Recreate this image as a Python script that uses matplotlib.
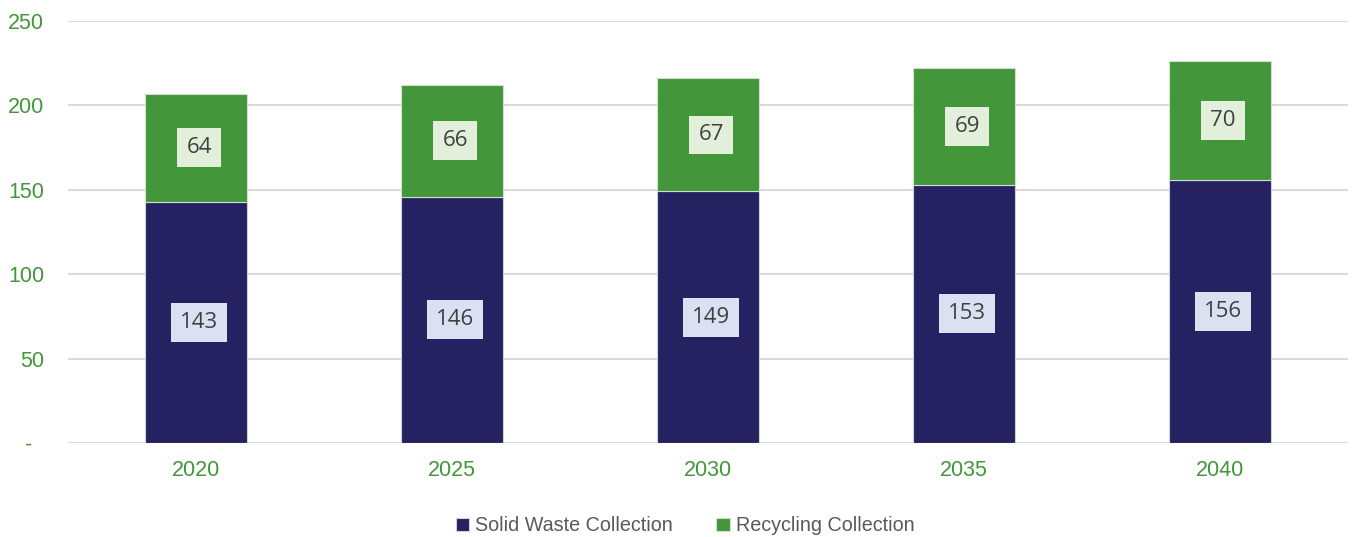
import matplotlib.pyplot as plt
import matplotlib.transforms as mtransforms
import numpy as np

years = ['2020', '2025', '2030', '2035', '2040']
solid_waste = [143, 146, 149, 153, 156]
recycling = [64, 66, 67, 69, 70]

navy = '#262262'
green = '#43963A'

fig = plt.figure(figsize=(13.54, 5.37), dpi=100)
ax = fig.add_axes([0.0502, 0.175, 0.9454, 0.786])

x = np.arange(len(years))
w = 0.4
b1 = ax.bar(x, solid_waste, w, color=navy, edgecolor='#D0D0D8', linewidth=0.8,
            label='Solid Waste Collection', zorder=3)
b2 = ax.bar(x, recycling, w, bottom=solid_waste, color=green, edgecolor='#D0E0D0',
            linewidth=0.8, label='Recycling Collection', zorder=3)

for i in range(len(years)):
    ax.text(x[i] + 0.012, solid_waste[i] / 2, str(solid_waste[i]), ha='center', va='center',
            fontsize=16, color='#404040', family='Open Sans', zorder=4,
            bbox=dict(boxstyle='square,pad=0.4', fc='#D9E1F2', ec='none'))
    ax.text(x[i] + 0.012, solid_waste[i] + recycling[i] / 2, str(recycling[i]), ha='center',
            va='center', fontsize=16, color='#404040', family='Open Sans', zorder=4,
            bbox=dict(boxstyle='square,pad=0.4', fc='#E2EFDA', ec='none'))

ax.set_xlim(-0.5, 4.5)
ax.set_ylim(0, 250)
ax.set_yticks([0, 50, 100, 150, 200, 250])
ax.set_yticklabels(['-', '50', '100', '150', '200', '250'])
ax.set_xticks(x)
ax.set_xticklabels(years)
ax.tick_params(axis='both', length=0, labelsize=15.5, labelcolor=green,
               labelfontfamily='Liberation Sans')
ax.tick_params(axis='y', pad=17)
ax.tick_params(axis='x', pad=12)
zero_lbl = ax.get_yticklabels()[0]
zero_lbl.set_transform(zero_lbl.get_transform() +
                       mtransforms.ScaledTranslation(-0.12, 0, fig.dpi_scale_trans))

ax.grid(axis='y', color='#D9D9D9', linewidth=1.5, zorder=0)
ax.set_axisbelow(True)
for s in ax.spines.values():
    s.set_visible(False)

leg = fig.legend(handles=[b1, b2], loc='lower center', bbox_to_anchor=(0.506, -0.03), ncol=2,
                 frameon=False, handlelength=0.7, handleheight=0.7,
                 handletextpad=0.3, columnspacing=2.2,
                 prop={'family': 'Liberation Sans', 'size': 14.2})
for t in leg.get_texts():
    t.set_color('#595959')

fig.savefig('out.png', dpi=100)
